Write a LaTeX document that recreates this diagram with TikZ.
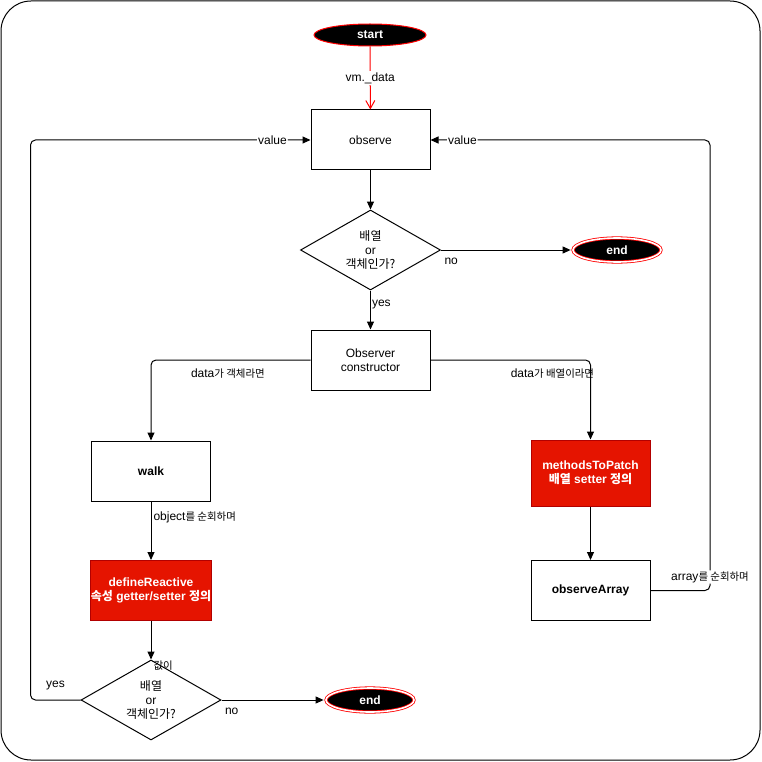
\documentclass[tikz,border=0pt]{standalone}
\usepackage{fontspec}
\setmainfont{Liberation Sans}
\newfontfamily\kr{Noto Sans CJK KR}
\newfontfamily\krs[Scale=0.87]{Noto Sans CJK KR}
\usetikzlibrary{shapes.geometric,arrows.meta,positioning}
\definecolor{boxred}{HTML}{E51400}
\definecolor{boxredline}{HTML}{B20000}

\tikzset{
  base/.style={font=\fontsize{12}{14}\selectfont, align=center, inner sep=0pt, line width=1pt},
  box/.style={base, draw, rectangle, minimum width=119pt, minimum height=60pt},
  boldbox/.style={box, font=\fontsize{12}{14}\selectfont\bfseries},
  redbox/.style={boldbox, fill=boxred, draw=boxredline, text=white},
  decision/.style={base, draw, diamond, aspect=1.75, minimum width=140pt, minimum height=80pt},
  term/.style={base, ellipse, fill=black, draw=red, text=white, font=\fontsize{12}{14}\selectfont\bfseries,
    minimum width=112pt, minimum height=22pt},
  endterm/.style={term, double=white, double distance=1.6pt, line width=0.8pt,
    minimum width=88pt, minimum height=24pt, outer sep=2.4pt},
  arr/.style={line width=1pt, -{Triangle[length=8pt,width=7pt]}},
  redarr/.style={line width=1pt, red, -{Straight Barb[length=8pt,width=9pt]}},
  lbl/.style={font=\fontsize{12}{14}\selectfont, inner sep=1pt, text=black},
  online/.style={lbl, fill=white}
}

\begin{document}
\begin{tikzpicture}[x=1pt, y=-1pt]
\useasboundingbox (0,0) rectangle (762,762);
\draw[line width=1pt, rounded corners=30pt] (1,1) rectangle (760,760);

% nodes
\node[term] (start) at (370,35) {start};
\node[box] (observe) at (370.5,140) {observe};
\node[decision] (isobj) at (370.5,250) {{\kr 배열}\\or\\{\kr 객체인가?}};
\node[endterm] (end1) at (617,250) {end};
\node[box] (ctor) at (370.5,360) {Observer\\constructor};
\node[boldbox] (walk) at (151,471) {walk};
\node[redbox] (define) at (151,590.5) {defineReactive\\{\kr 속성} getter/setter {\kr 정의}};
\node[decision] (isval) at (151,700) {{\kr 배열}\\or\\{\kr 객체인가?}};
\node[endterm] (end2) at (370,700) {end};
\node[redbox, minimum height=66pt] (patch) at (590.5,473) {methodsToPatch\\{\kr 배열} setter {\kr 정의}};
\node[boldbox] (obsarr) at (590.5,590.5) {observeArray};

% connectors
\draw[redarr] (start) -- node[online] {vm.\_data} (observe);
\draw[arr] (observe) -- (isobj);
\draw[arr] (isobj) -- node[lbl, pos=0, below right=7pt and 2pt] {no} (end1);
\draw[arr] (isobj) -- node[lbl, pos=0.35, right] {yes} (ctor);
\draw[arr, rounded corners=5pt] (ctor.west) -| node[lbl, pos=0.259, below=7pt] {data{\krs 가 객체라면}} (walk.north);
\draw[arr, rounded corners=5pt] (ctor.east) -| node[lbl, pos=0.381, below=7pt] {data{\krs 가 배열이라면}} (patch.north);
\draw[arr] (walk) -- node[lbl, pos=0.28, right=1pt] {object{\krs 를 순회하며}} (define);
\draw[arr] (define) -- node[lbl, pos=1, anchor=north west, xshift=1pt] {\krs 값이} (isval);
\draw[arr] (isval) -- node[lbl, pos=0, below right=7pt and 2pt] {no} (end2);
\draw[arr, rounded corners=5pt] (isval.west) -- node[lbl, above=9pt] {yes} ++(-50,0)
  |- node[online, pos=0.932] {value} (observe.west);
\draw[arr] (patch) -- (obsarr);
\draw[arr, rounded corners=5pt] (obsarr.east) -- ++(59.5,0)
  |- node[online, pos=0.015] {array{\krs 를 순회하며}} node[online, pos=0.943] {value} (observe.east);
\end{tikzpicture}
\end{document}
